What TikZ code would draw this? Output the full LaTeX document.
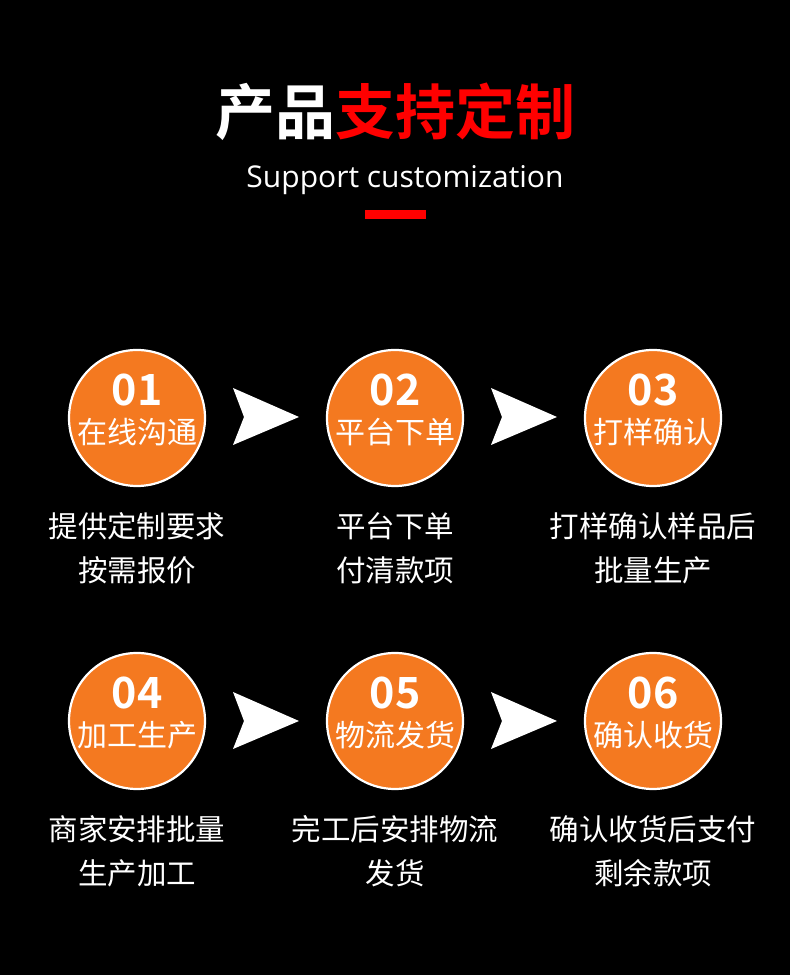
\documentclass[tikz,border=0pt]{standalone}
\usepackage{fontspec}
\newfontfamily\cjk{Noto Sans CJK SC}
\newfontfamily\cjkb{Noto Sans CJK SC Bold}
\newfontfamily\latin{Open Sans}
\definecolor{stepor}{HTML}{F47920}
\definecolor{titlered}{HTML}{FF0000}
\tikzset{
  stepcirc/.style={circle, draw=white, line width=2.2pt, fill=stepor, minimum size=136pt, inner sep=0pt},
  num/.style={text=white, font=\cjkb\fontsize{43}{43}\selectfont, inner sep=0pt},
  inlabel/.style={text=white, font=\cjk\fontsize{30}{30}\selectfont, inner sep=0pt},
  desc/.style={text=white, font=\cjk\fontsize{29.5}{44}\selectfont, align=center, inner sep=0pt},
  arrowshape/.style={fill=white, draw=none}
}
\newcommand{\steparrow}[1]{%
  \fill[arrowshape] ($(#1)+(-33,29)$) -- ($(#1)+(33,0)$) -- ($(#1)+(-33,-28)$) -- ($(#1)+(-22,0)$) -- cycle;}
\usetikzlibrary{calc}
\begin{document}
\begin{tikzpicture}[x=1pt,y=1pt]
\fill[black] (0,0) rectangle (790,975);
\useasboundingbox (0,0) rectangle (790,975);
% title
\node (title) at (395,863) {\cjkb\fontsize{60}{60}\selectfont\textcolor{white}{产品}\textcolor{titlered}{支持定制}};
\node[text=white, font=\latin\fontsize{30}{30}\selectfont] (sub) at (405,795) {Support customization};
\fill[titlered] (365,756) rectangle (426,765);
% steps
\foreach \i/\x/\y/\n/\t in {1/137/557/01/在线沟通, 2/395/557/02/平台下单, 3/653/557/03/打样确认, 4/137/254/04/加工生产, 5/395/254/05/物流发货, 6/653/254/06/确认收货}{
  \node[stepcirc] (c\i) at (\x,\y) {};
  \node[num] (n\i) at ($(c\i)+(0,28)$) {\n};
  \node[inlabel] (l\i) at ($(c\i)+(0,-14)$) {\t};
}
\node[desc] (d1) at (137,427) {提供定制要求\\按需报价};
\node[desc] (d2) at (395,427) {平台下单\\付清款项};
\node[desc] (d3) at (653,427) {打样确认样品后\\批量生产};
\node[desc] (d4) at (137,124) {商家安排批量\\生产加工};
\node[desc] (d5) at (395,124) {完工后安排物流\\发货};
\node[desc] (d6) at (653,124) {确认收货后支付\\剩余款项};
% arrows
\coordinate (a1) at (266,558);
\coordinate (a2) at (524,558);
\coordinate (a3) at (266,254);
\coordinate (a4) at (524,254);
\steparrow{a1}
\steparrow{a2}
\steparrow{a3}
\steparrow{a4}
\end{tikzpicture}
\end{document}
